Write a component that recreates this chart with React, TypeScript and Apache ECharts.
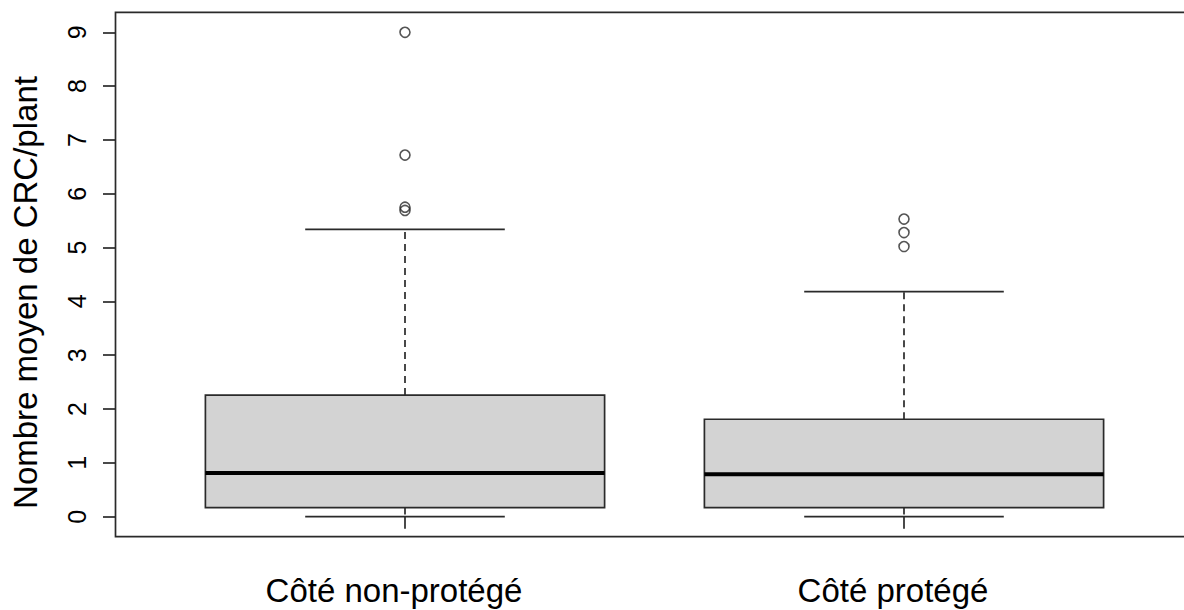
import React, { useEffect, useRef } from "react";
import * as echarts from "echarts";

const categories = ["Côté non-protégé", "Côté protégé"];
const lowerWhisker = [0, 0];
const q1 = [0.17, 0.17];
const median = [0.81, 0.79];
const q3 = [2.26, 1.81];
const upperWhisker = [5.34, 4.18];
const outliersNonProtege = [5.69, 5.75, 6.72, 9.0];
const outliersProtege = [5.02, 5.28, 5.53];
const yTickValues = [0, 1, 2, 3, 4, 5, 6, 7, 8, 9];

const FONT = "'Liberation Sans', Arial, Helvetica, sans-serif";
const LINE = "#2a2a2a";

export default function App() {
  const ref = useRef<HTMLDivElement>(null);

  useEffect(() => {
    document.body.style.margin = "0";
    if (!ref.current) return;
    const chart = echarts.init(ref.current, undefined, { renderer: "svg" });

    const boxData = categories.map((_, i) => [
      i,
      lowerWhisker[i],
      q1[i],
      median[i],
      q3[i],
      upperWhisker[i],
    ]);
    const outlierData: number[][] = [
      ...outliersNonProtege.map((v) => [0, v]),
      ...outliersProtege.map((v) => [1, v]),
    ];

    const option: any = {
      animation: false,
      backgroundColor: "#fff",
      textStyle: { fontFamily: FONT },
      grid: { left: 155.5, right: 30.5, top: 12.3, bottom: 73.3, containLabel: false },
      xAxis: {
        type: "category",
        data: categories,
        boundaryGap: true,
        axisLine: { show: false },
        axisTick: { show: true, alignWithLabel: true, length: 12, lineStyle: { color: LINE, width: 1.7 } },
        axisLabel: { fontSize: 33, color: "#000", margin: 37, padding: [0, 22, 0, 0], fontFamily: FONT },
        splitLine: { show: false },
      },
      yAxis: {
        type: "value",
        min: -0.372,
        max: 9.372,
        offset: 40.5,
        name: "Nombre moyen de CRC/plant",
        nameLocation: "middle",
        nameGap: 73,
        nameRotate: 90,
        nameTextStyle: { fontSize: 33, color: "#000", fontFamily: FONT, padding: [0, 36, 0, 0] },
        axisLine: { show: false },
        axisTick: { show: true, length: 12, customValues: yTickValues, lineStyle: { color: LINE, width: 1.7 } },
        axisLabel: {
          show: true,
          customValues: yTickValues,
          rotate: 90,
          fontSize: 25,
          margin: 26,
          color: "#000",
          fontFamily: FONT,
        },
        splitLine: { show: false },
      },
      graphic: [
        {
          type: "rect",
          silent: true,
          z: 100,
          shape: { x: 115.5, y: 12.3, width: 1100, height: 524.4 },
          style: { fill: "none", stroke: LINE, lineWidth: 1.7 },
        },
      ],
      series: [
        {
          type: "custom",
          data: boxData,
          encode: { x: 0, y: [1, 2, 3, 4, 5] },
          renderItem: (params: any, api: any) => {
            const idx = api.value(0);
            const band = api.size([1, 0])[0];
            const boxW = band * 0.8;
            const capW = band * 0.4;
            const pMin = api.coord([idx, api.value(1)]);
            const pQ1 = api.coord([idx, api.value(2)]);
            const pMed = api.coord([idx, api.value(3)]);
            const pQ3 = api.coord([idx, api.value(4)]);
            const pMax = api.coord([idx, api.value(5)]);
            const cx = pMed[0];
            const dash = { stroke: LINE, lineWidth: 1.7, lineDash: [7, 5] };
            const solid = { stroke: LINE, lineWidth: 1.7 };
            return {
              type: "group",
              children: [
                { type: "line", shape: { x1: cx, y1: pQ3[1], x2: cx, y2: pMax[1] }, style: dash },
                { type: "line", shape: { x1: cx, y1: pQ1[1], x2: cx, y2: pMin[1] }, style: dash },
                { type: "line", shape: { x1: cx - capW / 2, y1: pMax[1], x2: cx + capW / 2, y2: pMax[1] }, style: solid },
                { type: "line", shape: { x1: cx - capW / 2, y1: pMin[1], x2: cx + capW / 2, y2: pMin[1] }, style: solid },
                {
                  type: "rect",
                  shape: { x: cx - boxW / 2, y: pQ3[1], width: boxW, height: pQ1[1] - pQ3[1] },
                  style: { fill: "#d3d3d3", stroke: LINE, lineWidth: 1.7 },
                },
                {
                  type: "line",
                  shape: { x1: cx - boxW / 2, y1: pMed[1], x2: cx + boxW / 2, y2: pMed[1] },
                  style: { stroke: "#000", lineWidth: 4 },
                },
              ],
            };
          },
        },
        {
          type: "scatter",
          data: outlierData,
          symbol: "circle",
          symbolSize: 10,
          itemStyle: { color: "rgba(0,0,0,0)", borderColor: LINE, borderWidth: 1.6 },
        },
      ],
    };

    chart.setOption(option);
    return () => chart.dispose();
  }, []);

  return <div ref={ref} style={{ width: 1184, height: 610 }} />;
}
